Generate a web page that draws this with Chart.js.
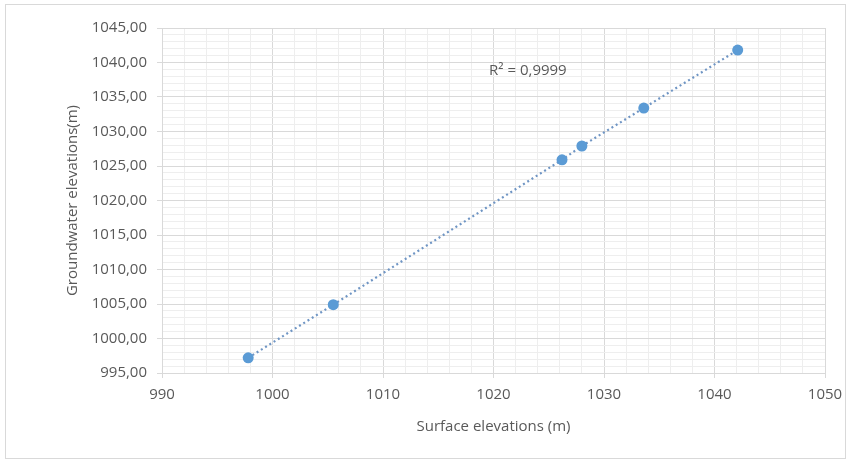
<!DOCTYPE html>
<html>
<head>
<meta charset="utf-8">
<script src="https://cdn.jsdelivr.net/npm/chart.js@4.4.1/dist/chart.umd.min.js"></script>
<style>
  html, body { margin: 0; padding: 0; background: #fff; }
  #wrap { position: relative; width: 852px; height: 465px; }
  #frame { position: absolute; left: 5px; top: 4px; width: 841px; height: 455px; border: 1px solid #d9d9d9; box-sizing: border-box; }
  canvas { position: absolute; left: 0; top: 0; }
</style>
</head>
<body>
<div id="wrap">
  <div id="frame"></div>
  <canvas id="chart" width="852" height="465"></canvas>
</div>
<script>
// --- data ---
const surfaceElev = [997.8, 1005.5, 1026.2, 1028.0, 1033.6, 1042.1];
const groundElev  = [997.2, 1004.9, 1025.9, 1027.9, 1033.4, 1041.8];
const xTicks = { min: 990, max: 1050, major: 10, minor: 2 };
const yTicks = { min: 995, max: 1045, major: 5, minor: 1 };
const r2Text = 'R² = 0,9999';
const r2Pos = { x: 1019.6, y: 1038.8 };

const FONT = "'Open Sans', 'Liberation Sans', sans-serif";
const TXT = '#595959';

const isMajor = (v, step) => Math.abs(v / step - Math.round(v / step)) < 1e-6;

// R² label placed in data coords
const r2Label = {
    id: 'r2Label',
    afterDatasetsDraw(chart) {
        const { ctx, scales } = chart;
        ctx.save();
        ctx.font = `15px ${FONT}`;
        ctx.fillStyle = TXT;
        ctx.textBaseline = 'middle';
        ctx.fillText(r2Text, scales.x.getPixelForValue(r2Pos.x), scales.y.getPixelForValue(r2Pos.y));
        ctx.restore();
    }
};

const points = surfaceElev.map((x, i) => ({ x: x, y: groundElev[i] }));

new Chart(document.getElementById('chart'), {
    type: 'scatter',
    data: {
        datasets: [{
            data: points,
            showLine: true,
            borderColor: '#6f95c4',
            borderWidth: 2.2,
            borderDash: [2, 3],
            backgroundColor: '#5b9bd5',
            pointBackgroundColor: '#5b9bd5',
            pointBorderColor: '#5b9bd5',
            pointRadius: 5.5,
            pointBorderWidth: 0
        }]
    },
    options: {
        responsive: false,
        animation: false,
        layout: { padding: { top: 28, right: 27, bottom: 25, left: 60 } },
        plugins: { legend: { display: false }, tooltip: { enabled: false } },
        scales: {
            x: {
                type: 'linear',
                min: xTicks.min, max: xTicks.max,
                afterFit: s => { s.height = 67; },
                ticks: {
                    stepSize: xTicks.minor, autoSkip: false, maxRotation: 0,
                    color: TXT, font: { family: FONT, size: 15 }, padding: 8,
                    callback: v => isMajor(v, xTicks.major) ? String(v) : ''
                },
                grid: {
                    color: c => isMajor(c.tick.value, xTicks.major) ? '#d9d9d9' : '#eeeeee',
                    tickColor: c => isMajor(c.tick.value, xTicks.major) ? '#d9d9d9' : 'rgba(0,0,0,0)',
                    tickLength: 5
                },
                border: { color: '#d9d9d9' },
                title: {
                    display: true, text: 'Surface elevations (m)',
                    color: TXT, font: { family: FONT, size: 15 }, padding: { top: 4 }
                }
            },
            y: {
                type: 'linear',
                min: yTicks.min, max: yTicks.max,
                afterFit: s => { s.width = 102; },
                ticks: {
                    stepSize: yTicks.minor, autoSkip: false,
                    color: TXT, font: { family: FONT, size: 15 }, padding: 10,
                    callback: v => isMajor(v, yTicks.major) ? v.toFixed(2).replace('.', ',') : ''
                },
                grid: {
                    color: c => isMajor(c.tick.value, yTicks.major) ? '#d9d9d9' : '#eeeeee',
                    tickColor: c => isMajor(c.tick.value, yTicks.major) ? '#d9d9d9' : 'rgba(0,0,0,0)',
                    tickLength: 5
                },
                border: { color: '#d9d9d9' },
                title: {
                    display: true, text: 'Groundwater elevations(m)',
                    color: TXT, font: { family: FONT, size: 15 }, padding: { bottom: 4 }
                }
            }
        }
    },
    plugins: [r2Label]
});
</script>
</body>
</html>
